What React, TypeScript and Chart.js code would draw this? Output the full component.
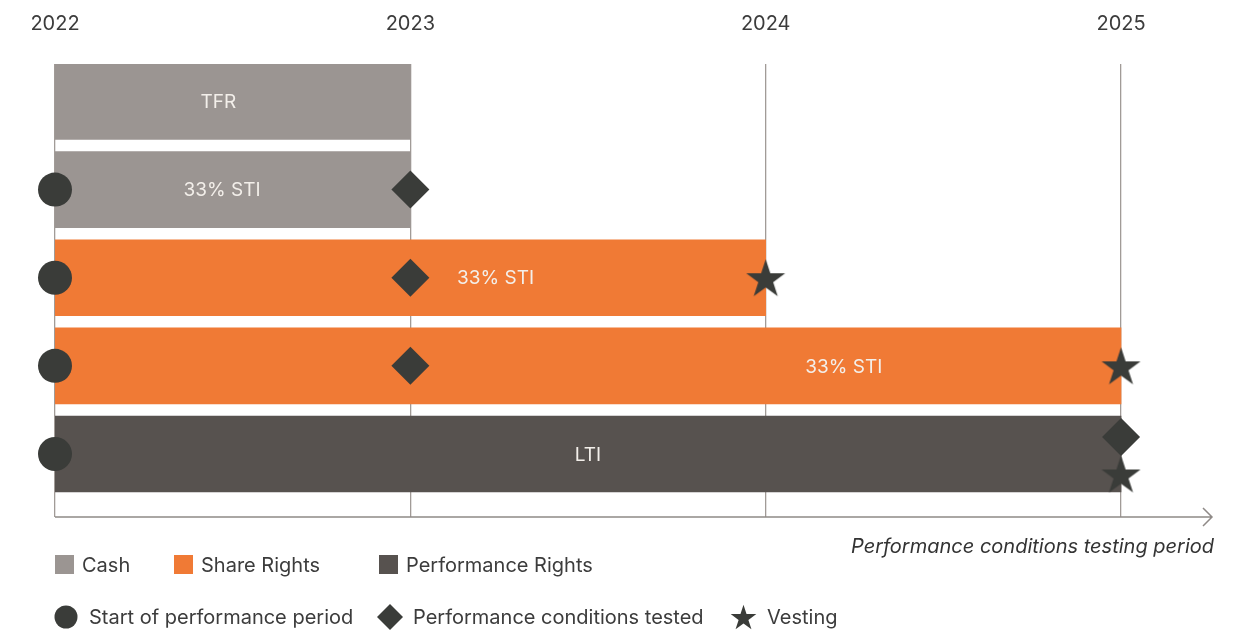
import React, { useEffect, useRef } from 'react';
import { Chart, registerables } from 'chart.js';

Chart.register(...registerables);

// ---- data ----
const years = [2022, 2023, 2024, 2025];
const rowLabels = ['TFR', '33% STI', '33% STI', '33% STI', 'LTI'];
const rowStart = [2022, 2022, 2022, 2022, 2022];
const rowEnd = [2023, 2023, 2024, 2025, 2025];
const rowType = ['Cash', 'Cash', 'Share Rights', 'Share Rights', 'Performance Rights'];
const labelAt = [2022.46, 2022.47, 2023.24, 2024.22, 2023.5];
const startPoints = [
  { x: 2022, y: 1 },
  { x: 2022, y: 2 },
  { x: 2022, y: 3 },
  { x: 2022, y: 4 },
];
const testPoints = [
  { x: 2023, y: 1 },
  { x: 2023, y: 2 },
  { x: 2023, y: 3 },
  { x: 2025, y: 3.807 },
];
const vestPoints = [
  { x: 2024, y: 2 },
  { x: 2025, y: 3 },
  { x: 2025, y: 4.227 },
];
const barLegend = ['Cash', 'Share Rights', 'Performance Rights'];
const markerLegend = ['Start of performance period', 'Performance conditions tested', 'Vesting'];
const axisTitle = 'Performance conditions testing period';

// ---- styles ----
const typeColor: Record<string, string> = {
  Cash: '#9b9592',
  'Share Rights': '#f07a35',
  'Performance Rights': '#57524f',
};
const markerColor = '#3a3c39';
const gridColor = '#a19b97';
const textColor = '#3c3c3c';
const FONT = 'Inter, "Noto Sans", sans-serif';

function starPath(ctx: CanvasRenderingContext2D, cx: number, cy: number, R: number) {
  const r = R * 0.382;
  ctx.beginPath();
  for (let i = 0; i < 10; i++) {
    const rad = i % 2 === 0 ? R : r;
    const a = -Math.PI / 2 + (i * Math.PI) / 5;
    const px = cx + rad * Math.cos(a);
    const py = cy + rad * Math.sin(a);
    if (i === 0) ctx.moveTo(px, py);
    else ctx.lineTo(px, py);
  }
  ctx.closePath();
}

// star centered on its bounding box
function drawStar(ctx: CanvasRenderingContext2D, cx: number, bboxCy: number, R: number) {
  starPath(ctx, cx, bboxCy + 0.0955 * R, R);
  ctx.fill();
}

function makeStarImage(R: number) {
  const size = Math.ceil(R * 2 + 4);
  const c = document.createElement('canvas');
  c.width = size;
  c.height = size;
  const ctx = c.getContext('2d')!;
  ctx.fillStyle = markerColor;
  drawStar(ctx, size / 2, size / 2, R);
  return c;
}

const overlayPlugin = {
  id: 'overlay',
  afterDatasetsDraw(chart: any) {
    const { ctx, scales } = chart;
    ctx.save();
    ctx.font = `19px ${FONT}`;
    ctx.fillStyle = '#f3efea';
    ctx.textAlign = 'center';
    ctx.textBaseline = 'middle';
    rowLabels.forEach((t, i) => {
      ctx.fillText(t, scales.x.getPixelForValue(labelAt[i]), scales.y.getPixelForValue(i) + 1);
    });
    ctx.restore();
  },
  afterDraw(chart: any) {
    const { ctx, chartArea } = chart;
    ctx.save();
    // bottom axis with arrow
    ctx.strokeStyle = '#8f8a87';
    ctx.lineWidth = 1.5;
    ctx.beginPath();
    ctx.moveTo(chartArea.left, chartArea.bottom);
    ctx.lineTo(chartArea.right, chartArea.bottom);
    ctx.moveTo(chartArea.right - 9, chartArea.bottom - 9);
    ctx.lineTo(chartArea.right, chartArea.bottom);
    ctx.lineTo(chartArea.right - 9, chartArea.bottom + 9);
    ctx.stroke();

    // axis title
    ctx.font = `italic 20px ${FONT}`;
    ctx.fillStyle = '#333333';
    ctx.textAlign = 'right';
    ctx.textBaseline = 'middle';
    ctx.fillText(axisTitle, chartArea.right + 2, chartArea.bottom + 30);

    // legend row 1
    ctx.font = `20px ${FONT}`;
    ctx.textAlign = 'left';
    const row1Y = 565;
    const sqX = [55, 174, 379];
    barLegend.forEach((t, i) => {
      ctx.fillStyle = typeColor[t];
      ctx.fillRect(sqX[i], row1Y - 10, 19, 19);
      ctx.fillStyle = textColor;
      ctx.fillText(t, sqX[i] + 27, row1Y + 1);
    });

    // legend row 2
    const row2Y = 617;
    const mX = [66, 390, 743.5];
    ctx.fillStyle = markerColor;
    ctx.beginPath();
    ctx.arc(mX[0], row2Y, 11.5, 0, Math.PI * 2);
    ctx.fill();
    ctx.beginPath();
    ctx.moveTo(mX[1] - 13, row2Y);
    ctx.lineTo(mX[1], row2Y - 13);
    ctx.lineTo(mX[1] + 13, row2Y);
    ctx.lineTo(mX[1], row2Y + 13);
    ctx.closePath();
    ctx.fill();
    drawStar(ctx, mX[2], row2Y, 13.5);
    const textX = [89, 413, 767];
    ctx.fillStyle = textColor;
    markerLegend.forEach((t, i) => {
      ctx.fillText(t, textX[i], row2Y + 1);
    });
    ctx.restore();
  },
};

export default function App() {
  const ref = useRef<HTMLCanvasElement>(null);

  useEffect(() => {
    if (!ref.current) return;
    const starImg = makeStarImage(20.5);
    const chart = new Chart(ref.current, {
      type: 'bar',
      data: {
        datasets: [
          {
            type: 'bar',
            order: 10,
            data: rowStart.map((s, i) => ({ x: [s, rowEnd[i]], y: i })) as any,
            backgroundColor: rowType.map((t) => typeColor[t]),
            borderWidth: 0,
            barThickness: 76,
            grouped: false,
          } as any,
          {
            type: 'scatter',
            order: 1,
            clip: false,
            data: startPoints,
            pointStyle: 'circle',
            pointRadius: 17,
            backgroundColor: markerColor,
            borderWidth: 0,
          } as any,
          {
            type: 'scatter',
            order: 1,
            clip: false,
            data: testPoints,
            pointStyle: 'rectRot',
            pointRadius: 19,
            backgroundColor: markerColor,
            borderWidth: 0,
          } as any,
          {
            type: 'scatter',
            order: 1,
            clip: false,
            data: vestPoints,
            pointStyle: starImg,
            pointRadius: 20,
            backgroundColor: markerColor,
            borderWidth: 0,
          } as any,
        ],
      },
      options: {
        indexAxis: 'y',
        animation: false,
        responsive: false,
        events: [],
        layout: { padding: { left: 55, right: 41, top: 0, bottom: 113 } },
        plugins: {
          legend: { display: false },
          tooltip: { enabled: false },
        },
        scales: {
          x: {
            type: 'linear',
            position: 'top',
            min: 2022,
            max: 2025.256,
            offset: false,
            beginAtZero: false,
            z: 1,
            afterFit: (s: any) => {
              s.height = 64;
            },
            afterBuildTicks: (s: any) => {
              s.ticks = years.map((v) => ({ value: v }));
            },
            ticks: {
              callback: (v: any) => String(v),
              font: { family: FONT, size: 20 },
              color: textColor,
              padding: 28,
              maxRotation: 0,
              autoSkip: false,
            },
            grid: {
              color: gridColor,
              lineWidth: 1.3,
              drawTicks: false,
              offset: false,
            },
            border: { display: false },
          },
          y: {
            type: 'linear',
            display: false,
            reverse: true,
            offset: false,
            beginAtZero: false,
            grid: { offset: false },
            min: -0.4255,
            max: 4.715,
          },
        },
      } as any,
      plugins: [overlayPlugin],
    });
    return () => chart.destroy();
  }, []);

  return (
    <div style={{ position: 'fixed', left: 0, top: 0, width: 1253, height: 630, background: '#ffffff' }}>
      <canvas ref={ref} width={1253} height={630} />
    </div>
  );
}
